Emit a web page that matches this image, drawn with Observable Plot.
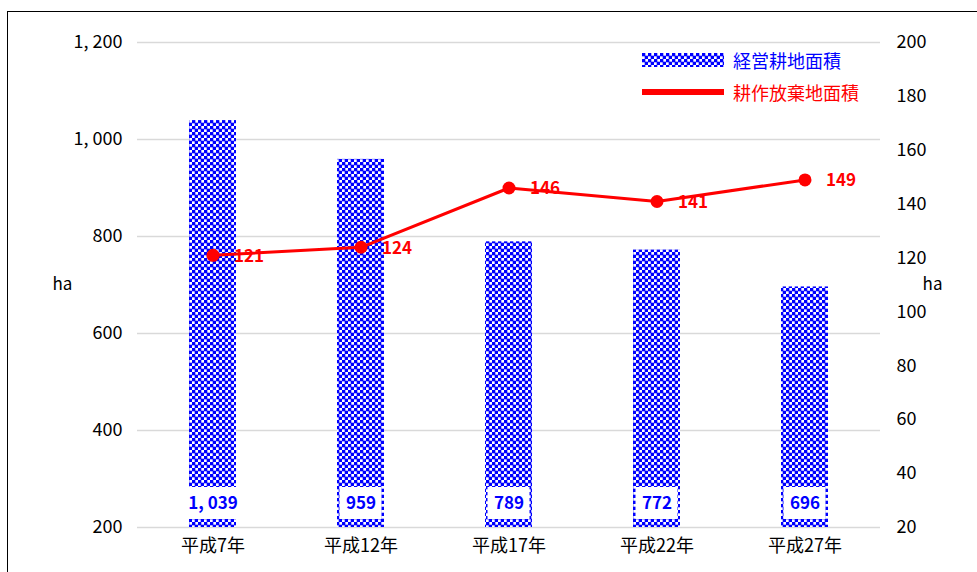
<!DOCTYPE html>
<html>
<head>
<meta charset="utf-8">
<script src="https://cdn.jsdelivr.net/npm/d3@7"></script>
<script src="https://cdn.jsdelivr.net/npm/@observablehq/plot@0.6"></script>
<style>
  html, body { margin: 0; padding: 0; background: #fff; }
  #wrap { position: relative; width: 977px; height: 572px; overflow: hidden; font-family: "Noto Sans CJK JP", "Noto Sans", sans-serif; }
  #frame { position: absolute; left: 7px; top: 11px; width: 1000px; height: 700px; border-left: 1px solid #000; border-top: 1px solid #000; pointer-events: none; }
  .leg { position: absolute; display: flex; align-items: center; font-size: 18px; }
  .leg svg { display: block; }
</style>
</head>
<body>
<div id="wrap">
  <div id="chart"></div>
  <div id="frame"></div>
  <div class="leg" style="left:642px; top:47px; color:#0000ff;">
    <svg width="82" height="14"><defs><pattern id="checkerLeg" width="6" height="6" patternUnits="userSpaceOnUse"><rect width="6" height="6" fill="#fff"/><rect x="-0.3" y="-0.3" width="3.6" height="3.6" fill="#0000ff"/><rect x="2.7" y="2.7" width="3.6" height="3.6" fill="#0000ff"/></pattern></defs><rect width="82" height="14" fill="url(#checkerLeg)"/></svg>
    <span style="margin-left:9px;">経営耕地面積</span>
  </div>
  <div class="leg" style="left:642px; top:79px; color:#ff0000;">
    <svg width="82" height="14"><rect y="4" width="82" height="6" fill="#ff0000"/></svg>
    <span style="margin-left:9px;">耕作放棄地面積</span>
  </div>
</div>
<script>
const categories = ["平成7年", "平成12年", "平成17年", "平成22年", "平成27年"];
const farmArea = [1039, 959, 789, 772, 696];
const abandonedArea = [121, 124, 146, 141, 149];
const leftTicks = [200, 400, 600, 800, 1000, 1200];
const rightTicks = [20, 40, 60, 80, 100, 120, 140, 160, 180, 200];

const data = categories.map((c, i) => ({cat: c, farm: farmArea[i], ab: abandonedArea[i]}));
const toLeft = v => +(200 + (v - 20) * 1000 / 180).toFixed(6);
const toRight = v => Math.round(20 + (v - 200) * 180 / 1000);
const fmt = v => d3.format(",")(v).replace(",", ", ");
const family = '"Noto Sans CJK JP", "Noto Sans", sans-serif';
const labelFont = 'bold 17px ' + family;
const ns = "http://www.w3.org/2000/svg";

function defs() {
  const d = document.createElementNS(ns, "defs");
  d.innerHTML = '<pattern id="checker" width="6" height="6" patternUnits="userSpaceOnUse"><rect width="6" height="6" fill="#fff"/><rect x="-0.3" y="-0.3" width="3.6" height="3.6" fill="#0000ff"/><rect x="2.7" y="2.7" width="3.6" height="3.6" fill="#0000ff"/></pattern>';
  return d;
}

// white boxes behind the in-bar value labels
function labelBoxes(index, scales, values, dimensions) {
  const g = document.createElementNS(ns, "g");
  const ctx = document.createElement("canvas").getContext("2d");
  ctx.font = labelFont;
  const bw = scales.x.bandwidth();
  const bottom = dimensions.height - dimensions.marginBottom;
  data.forEach(d => {
    const tw = ctx.measureText(fmt(d.farm)).width;
    const w = Math.max(bw - 5, tw + 4);
    const cx = scales.x(d.cat) + bw / 2;
    const r = document.createElementNS(ns, "rect");
    r.setAttribute("x", cx - w / 2);
    r.setAttribute("y", bottom - 40);
    r.setAttribute("width", w);
    r.setAttribute("height", 32);
    r.setAttribute("fill", "#fff");
    g.appendChild(r);
  });
  return g;
}

const chart = Plot.plot({
  width: 977,
  height: 572,
  marginLeft: 137,
  marginRight: 97,
  marginTop: 42,
  marginBottom: 45,
  style: {fontFamily: family, fontSize: "18px", color: "#000", background: "transparent"},
  x: {domain: categories, paddingInner: 0.68, paddingOuter: 0.34},
  y: {domain: [200, 1200]},
  marks: [
    defs,
    Plot.gridY(leftTicks, {stroke: "#d9d9d9", strokeOpacity: 1, strokeWidth: 1.5}),
    Plot.barY(data, {x: "cat", y: "farm", fill: "url(#checker)", clip: true}),
    labelBoxes,
    Plot.text(data, {x: "cat", frameAnchor: "bottom", lineAnchor: "middle", dy: -24, text: d => fmt(d.farm), fill: "#0000ff", fontWeight: "bold", fontSize: 17}),
    Plot.axisY({ticks: leftTicks, tickSize: 0, tickPadding: 15, tickFormat: fmt, label: null, fontSize: 18}),
    Plot.axisY({anchor: "right", ticks: rightTicks.map(toLeft), tickSize: 0, tickPadding: 16, tickFormat: toRight, label: null, fontSize: 18}),
    Plot.axisX({tickSize: 0, tickPadding: 12, label: null, fontSize: 18}),
    Plot.text(["ha"], {frameAnchor: "left", dx: -85, fontSize: 17}),
    Plot.text(["ha"], {frameAnchor: "right", dx: 62, fontSize: 17}),
    Plot.line(data, {x: "cat", y: d => toLeft(d.ab), stroke: "#ff0000", strokeWidth: 3}),
    Plot.dot(data, {x: "cat", y: d => toLeft(d.ab), r: 6.5, fill: "#ff0000"}),
    Plot.text(data, {x: "cat", y: d => toLeft(d.ab), text: d => String(d.ab), dx: 21, dy: 1, textAnchor: "start", fill: "#ff0000", fontWeight: "bold", fontSize: 17})
  ]
});
document.getElementById("chart").appendChild(chart);
</script>
</body>
</html>
